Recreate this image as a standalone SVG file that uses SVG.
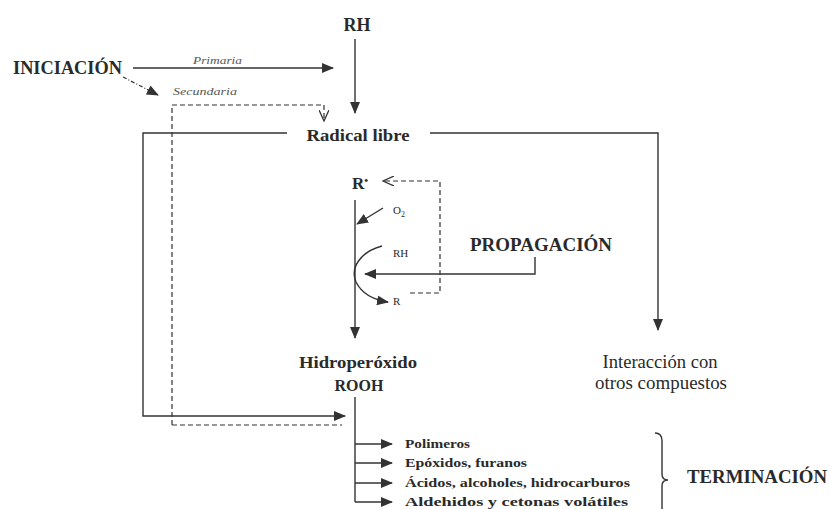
<svg xmlns="http://www.w3.org/2000/svg" width="830" height="509" viewBox="0 0 830 509" font-family="'Liberation Serif', 'Times New Roman', serif">
<style>
text{font-family:"Liberation Serif","Times New Roman",serif;fill:#2a2a2a}
.b{font-weight:bold}
.it{font-style:italic;fill:#555}
.ln{fill:none;stroke:#333;stroke-width:1.4}
.ds{fill:none;stroke:#333;stroke-width:1.2;stroke-dasharray:5,3}
.dd{fill:none;stroke:#333;stroke-width:1.2;stroke-dasharray:4,2,1,2}
</style>
<defs>
<marker id="ah" markerWidth="12" markerHeight="10" refX="11" refY="5" orient="auto" markerUnits="userSpaceOnUse">
<path d="M0,0 L12,5 L0,10 Z" fill="#333"/>
</marker>
<marker id="oh" markerWidth="12" markerHeight="10" refX="11" refY="5" orient="auto" markerUnits="userSpaceOnUse">
<path d="M0,0 L11,5 L0,10" fill="none" stroke="#333" stroke-width="1.3"/>
</marker>
</defs>
<rect width="830" height="509" fill="#fff"/>

<g id="connectors">
<line class="ln" x1="133" y1="68" x2="333" y2="68" marker-end="url(#ah)"/>
<line class="dd" x1="123" y1="77" x2="158" y2="95" marker-end="url(#ah)"/>
<line class="ln" x1="355" y1="39" x2="355" y2="113" marker-end="url(#ah)"/>
<polyline class="ds" points="172,425 172,105 324,105 324,121" marker-end="url(#oh)"/>
<line class="ds" x1="172" y1="425" x2="342" y2="425"/>
<polyline class="ln" points="287,133 143,133 143,416 345,416" marker-end="url(#ah)"/>
<polyline class="ln" points="430,133 658,133 658,330" marker-end="url(#ah)"/>
<line class="ln" x1="355" y1="200" x2="355" y2="338" marker-end="url(#ah)"/>
<polyline class="ds" points="410,293 440,293 440,181 383,181" marker-end="url(#oh)"/>
<line class="ln" x1="383" y1="208" x2="357" y2="224" marker-end="url(#ah)"/>
<path class="ln" d="M382,246 C360,252 350,268 356,282 C362,294 375,300 388,302" marker-end="url(#ah)"/>
<polyline class="ln" points="535,257 535,274 365,274" marker-end="url(#ah)"/>
<line class="ln" x1="355" y1="397" x2="355" y2="502"/>
<line class="ln" x1="355" y1="444" x2="392" y2="444" marker-end="url(#ah)"/>
<line class="ln" x1="355" y1="463" x2="392" y2="463" marker-end="url(#ah)"/>
<line class="ln" x1="355" y1="483" x2="392" y2="483" marker-end="url(#ah)"/>
<line class="ln" x1="355" y1="502" x2="392" y2="502" marker-end="url(#ah)"/>
<path class="ln" d="M655,433 C660,433 662,436 662,441 L662,474 C662,478 664,480 668,480 C664,480 662,482 662,486 L662,512"/>
</g>

<g id="rh"><text class="b" x="357" y="31" font-size="18" text-anchor="middle">RH</text></g>
<g id="iniciacion"><text class="b" x="13" y="74" font-size="18" textLength="109" lengthAdjust="spacingAndGlyphs">INICIACIÓN</text></g>
<g id="primaria"><text class="it" x="193" y="64" font-size="10.5" textLength="49" lengthAdjust="spacingAndGlyphs">Primaria</text></g>
<g id="secundaria"><text class="it" x="173" y="95" font-size="10.5" textLength="64" lengthAdjust="spacingAndGlyphs">Secundaria</text></g>
<g id="radical"><text class="b" x="358" y="141" font-size="16" text-anchor="middle" textLength="103" lengthAdjust="spacingAndGlyphs">Radical libre</text></g>
<g id="rdot"><text class="b" x="352" y="189" font-size="17">R<tspan font-size="11" dy="-5">•</tspan></text></g>
<g id="o2"><text x="393" y="214" font-size="11">O<tspan font-size="8" dy="3">2</tspan></text></g>
<g id="rh2"><text x="393" y="257" font-size="11">RH</text></g>
<g id="r"><text x="393" y="305" font-size="11">R</text></g>
<g id="propagacion"><text class="b" x="470" y="251" font-size="18" textLength="142" lengthAdjust="spacingAndGlyphs">PROPAGACIÓN</text></g>
<g id="interaccion">
<text x="660" y="368" font-size="18" text-anchor="middle" textLength="115" lengthAdjust="spacingAndGlyphs">Interacción con</text>
<text x="661" y="389" font-size="18" text-anchor="middle" textLength="132" lengthAdjust="spacingAndGlyphs">otros compuestos</text>
</g>
<g id="hidroperoxido">
<text class="b" x="358" y="368" font-size="16" text-anchor="middle" textLength="118" lengthAdjust="spacingAndGlyphs">Hidroperóxido</text>
<text class="b" x="359" y="391" font-size="16" text-anchor="middle">ROOH</text>
</g>
<g id="productos" font-size="12.5">
<text class="b" x="405" y="448" textLength="65" lengthAdjust="spacingAndGlyphs">Polimeros</text>
<text class="b" x="405" y="467" textLength="122" lengthAdjust="spacingAndGlyphs">Epóxidos, furanos</text>
<text class="b" x="405" y="487" textLength="225" lengthAdjust="spacingAndGlyphs">Ácidos, alcoholes, hidrocarburos</text>
<text class="b" x="405" y="506" textLength="223" lengthAdjust="spacingAndGlyphs">Aldehidos y cetonas volátiles</text>
</g>
<g id="terminacion"><text class="b" x="687" y="483" font-size="18" textLength="140" lengthAdjust="spacingAndGlyphs">TERMINACIÓN</text></g>
</svg>
